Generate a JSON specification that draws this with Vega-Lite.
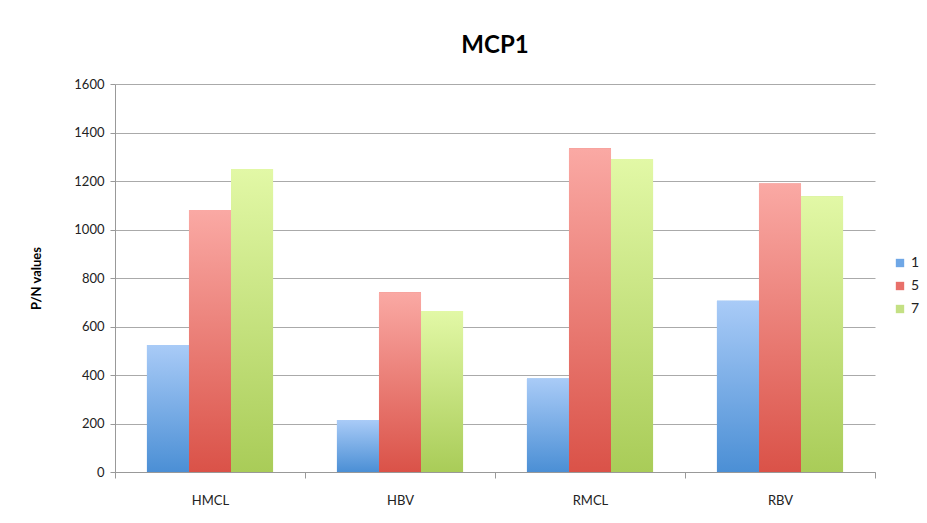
{
  "$schema": "https://vega.github.io/schema/vega-lite/v6.json",
  "width": 760,
  "height": 388,
  "autosize": {"type": "none"},
  "padding": {"left": 115, "top": 84, "right": 52, "bottom": 51},
  "background": "white",
  "title": {"text": "MCP1", "font": "Lato", "fontSize": 24, "fontWeight": "bold", "color": "#000000", "anchor": "middle", "offset": 20},
  "data": {"values": [
    {"cat": "HMCL", "series": "1", "value": 524},
    {"cat": "HMCL", "series": "5", "value": 1080},
    {"cat": "HMCL", "series": "7", "value": 1249},
    {"cat": "HBV", "series": "1", "value": 214},
    {"cat": "HBV", "series": "5", "value": 741},
    {"cat": "HBV", "series": "7", "value": 664},
    {"cat": "RMCL", "series": "1", "value": 386},
    {"cat": "RMCL", "series": "5", "value": 1335},
    {"cat": "RMCL", "series": "7", "value": 1291},
    {"cat": "RBV", "series": "1", "value": 706},
    {"cat": "RBV", "series": "5", "value": 1190},
    {"cat": "RBV", "series": "7", "value": 1137}
  ]},
  "encoding": {
    "x": {"field": "cat", "type": "nominal", "sort": ["HMCL", "HBV", "RMCL", "RBV"],
      "scale": {"paddingInner": 0, "paddingOuter": 0},
      "axis": {"title": null, "labelAngle": 0, "tickBand": "extent", "labelFont": "Lato", "labelFontSize": 13, "labelColor": "#222222", "labelPadding": 16, "domainColor": "#999999", "tickColor": "#999999", "tickSize": 6, "grid": false}},
    "xOffset": {"field": "series", "type": "nominal", "scale": {"paddingInner": 0, "paddingOuter": 0.76}},
    "y": {"field": "value", "type": "quantitative", "scale": {"domain": [0, 1600]},
      "axis": {"title": "P/N values", "titleFont": "Lato", "titleFontSize": 13, "titleFontWeight": "bold", "titleColor": "#000000", "titlePadding": 30, "values": [0, 200, 400, 600, 800, 1000, 1200, 1400, 1600], "format": "d", "labelFont": "Lato", "labelFontSize": 13, "labelColor": "#222222", "labelPadding": 6, "gridColor": "#aaaaaa", "gridWidth": 1, "domainColor": "#999999", "tickColor": "#999999", "tickSize": 5}}
  },
  "layer": [
    {
      "mark": {"type": "bar"},
      "encoding": {
        "color": {"field": "series", "type": "nominal",
          "scale": {"domain": ["1", "5", "7"], "range": ["#6fa7e6", "#e8706a", "#c4e084"]},
          "legend": {"title": null, "orient": "none", "legendX": 778, "legendY": 172, "symbolType": "square", "symbolSize": 70, "labelFont": "Lato", "labelFontSize": 14, "labelColor": "#222222", "rowPadding": 9, "symbolStrokeWidth": 0}}
      }
    },
    {
      "transform": [{"filter": "datum.series == '1'"}],
      "mark": {"type": "bar", "color": {"gradient": "linear", "x1": 0, "y1": 0, "x2": 0, "y2": 1, "stops": [{"offset": 0, "color": "#a9cbf7"}, {"offset": 1, "color": "#4b8fd5"}]}}
    },
    {
      "transform": [{"filter": "datum.series == '5'"}],
      "mark": {"type": "bar", "color": {"gradient": "linear", "x1": 0, "y1": 0, "x2": 0, "y2": 1, "stops": [{"offset": 0, "color": "#faa9a4"}, {"offset": 1, "color": "#da5248"}]}}
    },
    {
      "transform": [{"filter": "datum.series == '7'"}],
      "mark": {"type": "bar", "color": {"gradient": "linear", "x1": 0, "y1": 0, "x2": 0, "y2": 1, "stops": [{"offset": 0, "color": "#e2f8a6"}, {"offset": 1, "color": "#a9cc58"}]}}
    }
  ],
  "config": {"view": {"stroke": null}}
}
